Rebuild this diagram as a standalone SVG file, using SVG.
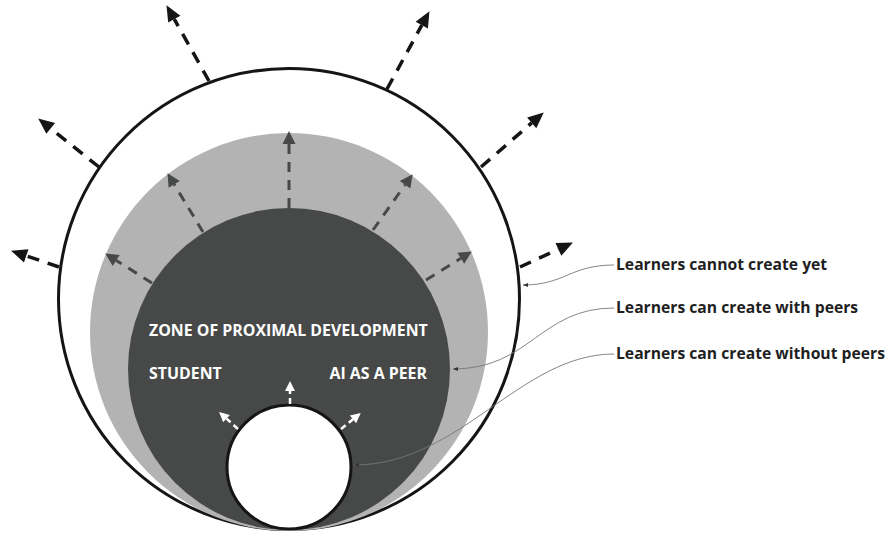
<svg xmlns="http://www.w3.org/2000/svg" width="891" height="533" viewBox="0 0 891 533">
<style>
.lbl{font-family:"Open Sans","Noto Sans",sans-serif;font-weight:bold;font-size:15.7px;fill:#1f1f1f}
.in{font-family:"Open Sans","Noto Sans",sans-serif;font-weight:bold;font-size:15.9px;fill:#ffffff}
.ao{fill:none;stroke:#151515;stroke-width:3.5;stroke-dasharray:12 9}
.ag{fill:none;stroke:#474948;stroke-width:3;stroke-dasharray:10 8}
.aw{fill:none;stroke:#ffffff;stroke-width:2.5;stroke-dasharray:6 4}
.lead{fill:none;stroke:#777;stroke-width:0.9}
</style>
<defs>
<marker id="hb" markerUnits="userSpaceOnUse" orient="auto" refX="0" refY="0" markerWidth="20" markerHeight="20" overflow="visible"><path d="M0,-7 L16,0 L0,7 z" fill="#151515"/></marker>
<marker id="hg" markerUnits="userSpaceOnUse" orient="auto" refX="0" refY="0" markerWidth="20" markerHeight="20" overflow="visible"><path d="M0,-6.5 L13,0 L0,6.5 z" fill="#474948"/></marker>
<marker id="hw" markerUnits="userSpaceOnUse" orient="auto" refX="0" refY="0" markerWidth="20" markerHeight="20" overflow="visible"><path d="M0,-5 L10,0 L0,5 z" fill="#ffffff"/></marker>
<marker id="hl" markerUnits="userSpaceOnUse" orient="auto" refX="5" refY="0" markerWidth="10" markerHeight="10" overflow="visible"><path d="M0,-2 L5,0 L0,2 z" fill="#333"/></marker>
</defs>
<g id="outer-zone"><circle cx="289" cy="299" r="230.5" fill="#ffffff" stroke="#151515" stroke-width="3"/></g>
<g id="peer-zone"><circle cx="289" cy="332" r="199" fill="#b3b3b3"/></g>
<g id="zpd"><circle cx="289" cy="369" r="161" fill="#474948"/>
<text class="in" x="149" y="336">ZONE OF PROXIMAL DEVELOPMENT</text>
<text class="in" x="149" y="379">STUDENT</text>
<text class="in" x="427" y="379" text-anchor="end">AI AS A PEER</text>
</g>
<g id="student-zone"><circle cx="289" cy="467" r="62" fill="#ffffff" stroke="#151515" stroke-width="3"/></g>
<g id="connectors">
<path class="ao" d="M209,81 L174.3,19.1" marker-end="url(#hb)"/>
<path class="ao" d="M99,167 L50.7,128.4" marker-end="url(#hb)"/>
<path class="ao" d="M59,267 L26.2,255.8" marker-end="url(#hb)"/>
<path class="ao" d="M387,89 L421.8,25.2" marker-end="url(#hb)"/>
<path class="ao" d="M481,167 L531.7,122.9" marker-end="url(#hb)"/>
<path class="ao" d="M520,267 L558.4,249.3" marker-end="url(#hb)"/>
<path class="ag" d="M289,208 L289,144" marker-end="url(#hg)"/>
<path class="ag" d="M203,232 L174.2,184.3" marker-end="url(#hg)"/>
<path class="ag" d="M373,230 L405.1,184.8" marker-end="url(#hg)"/>
<path class="ag" d="M152,283 L116.2,260.4" marker-end="url(#hg)"/>
<path class="ag" d="M426,280 L460.8,258.3" marker-end="url(#hg)"/>
<path class="aw" d="M290,404 L290,391" marker-end="url(#hw)"/>
<path class="aw" d="M238,429 L226.5,418.6" marker-end="url(#hw)"/>
<path class="aw" d="M341,429 L353,419.3" marker-end="url(#hw)"/>
<path class="lead" d="M614,265 C570,265 565,285 523,285" marker-end="url(#hl)"/>
<path class="lead" d="M614,308 C540,308 530,369 453,369" marker-end="url(#hl)"/>
<path class="lead" d="M614,354 C520,354 460,465 354,465" marker-end="url(#hl)"/>
</g>
<g id="labels">
<text class="lbl" x="616" y="270">Learners cannot create yet</text>
<text class="lbl" x="616" y="313">Learners can create with peers</text>
<text class="lbl" x="616" y="359">Learners can create without peers</text>
</g>
</svg>
